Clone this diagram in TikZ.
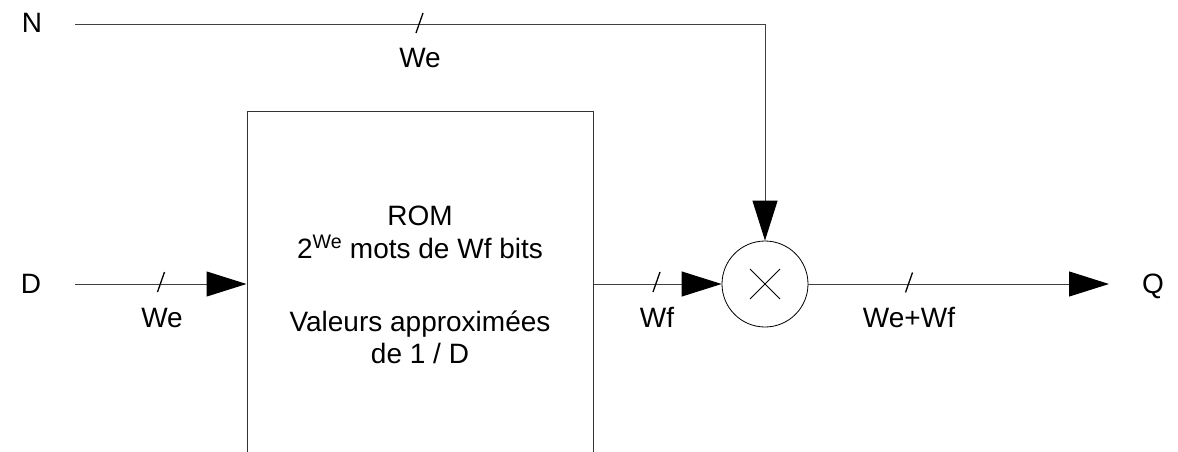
\documentclass[tikz,border=0pt]{standalone}
\usepackage{fontspec}
\setmainfont{Liberation Sans}
\usetikzlibrary{arrows.meta}
\tikzset{
  wire/.style={draw=black!75, line width=1pt},
  tip/.style={-{Triangle[length=40pt,width=25pt,black]}},
  lbl/.style={inner sep=0pt, anchor=base, font=\fontsize{28}{33}\selectfont},
  rombox/.style={draw=black!80, line width=1pt, minimum width=346pt, minimum height=380pt, inner sep=0pt},
  mulnode/.style={draw=black, line width=0.8pt, circle, minimum size=86pt, inner sep=0pt},
  bus/.pic={\draw[black, line width=1.3pt] (-3.5,10) -- (3.5,-10);}
}
\begin{document}
\begin{tikzpicture}[x=1pt,y=-1pt]
\useasboundingbox (0,0) rectangle (1178,452);
\begin{scope}
\clip (0,0) rectangle (1178,452);
% labels of ports
\node[lbl] (N) at (32,33) {N};
\node[lbl] (D) at (31,293) {D};
\node[lbl] (Q) at (1153,293) {Q};
% ROM box
\node[rombox] (rom) at (420,301) {};
\node[lbl] (t1) at (420,225) {ROM};
\node[lbl] (t2) at (420,258) {2\textsuperscript{We} mots de Wf bits};
\node[lbl] (t3) at (420,331) {Valeurs approximées};
\node[lbl] (t4) at (420,363) {de 1 / D};
% multiplier
\node[mulnode] (mul) at (765,284) {};
\draw[black, line width=0.8pt] ([shift={(-15,-15)}]mul.center) -- ([shift={(15,15)}]mul.center)
  ([shift={(-15,15)}]mul.center) -- ([shift={(15,-15)}]mul.center);
% coordinates
\coordinate (nstart) at (75,25);
\coordinate (dstart) at (75,284);
\coordinate (qend) at (1109,284);
% connectors
\draw[wire,tip] (nstart) -| (mul.north);
\draw[wire,tip] (dstart) -- (rom.west |- dstart);
\draw[wire,tip] (rom.east |- mul.west) -- (mul.west);
\draw[wire,tip] (mul.east) -- (qend);
% bus marks
\pic at (419.5,23) {bus};
\pic at (161,282) {bus};
\pic at (656.5,282) {bus};
\pic at (909,282.5) {bus};
% width labels
\node[lbl] (wN) at (420,68) {We};
\node[lbl] (wD) at (162,327) {We};
\node[lbl] (wR) at (657,327) {Wf};
\node[lbl] (wQ) at (909,327) {We+Wf};
\end{scope}
\end{tikzpicture}
\end{document}
